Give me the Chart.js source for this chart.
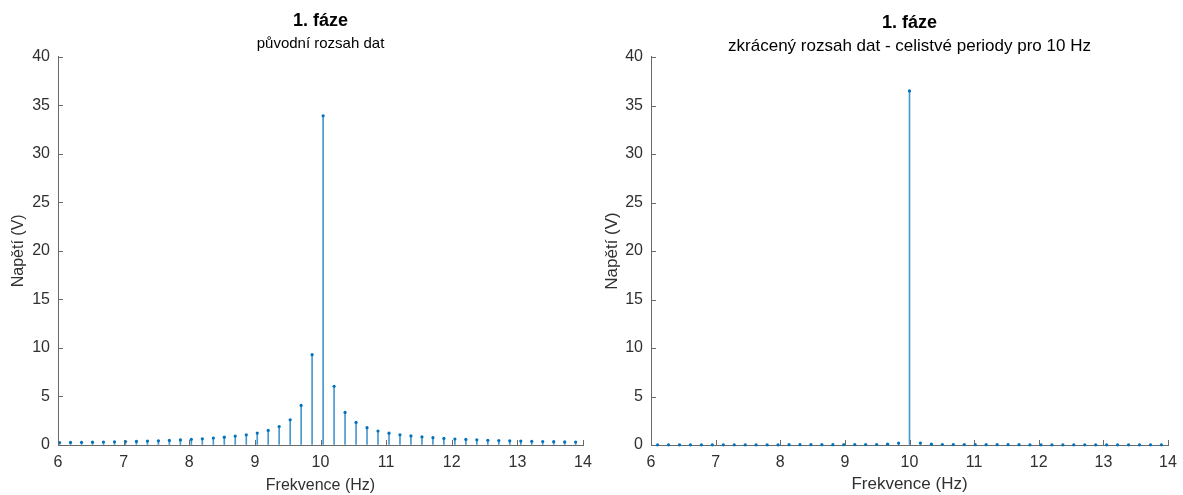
<!DOCTYPE html>
<html>
<head>
<meta charset="utf-8">
<script src="https://cdn.jsdelivr.net/npm/chart.js@4.4.1/dist/chart.umd.min.js"></script>
<style>
  html, body { margin: 0; padding: 0; background: #ffffff; }
  #wrap { position: relative; width: 1183px; height: 495px; overflow: hidden; }
  canvas { position: absolute; top: 0; }
  #c1 { left: 0px; }
  #c2 { left: 590px; }
</style>
</head>
<body>
<div id="wrap">
  <canvas id="c1" width="641" height="495"></canvas>
  <canvas id="c2" width="639" height="495"></canvas>
</div>
<script>
// ---- data ----
const titleText = '1. fáze';
const subtitleLeft = 'původní rozsah dat';
const subtitleRight = 'zkrácený rozsah dat - celistvé periody pro 10 Hz';
const xAxisTitle = 'Frekvence (Hz)';
const yAxisTitle = 'Napětí (V)';

const xTickValues = [6, 7, 8, 9, 10, 11, 12, 13, 14];
const yTickValues = [0, 5, 10, 15, 20, 25, 30, 35, 40];

// left panel: original data range
const freqLeft = [6.024, 6.191, 6.359, 6.526, 6.693, 6.861, 7.028, 7.195, 7.363, 7.530,
                  7.697, 7.865, 8.032, 8.199, 8.367, 8.534, 8.701, 8.869, 9.036, 9.203,
                  9.370, 9.538, 9.705, 9.872, 10.040, 10.207, 10.374, 10.542, 10.709, 10.876,
                  11.044, 11.211, 11.378, 11.546, 11.713, 11.880, 12.048, 12.215, 12.382, 12.550,
                  12.717, 12.884, 13.052, 13.219, 13.386, 13.554, 13.721, 13.888];
const voltLeft = [0.26, 0.27, 0.28, 0.29, 0.31, 0.33, 0.35, 0.37, 0.40, 0.43,
                  0.47, 0.52, 0.58, 0.64, 0.72, 0.81, 0.92, 1.05, 1.23, 1.50,
                  1.90, 2.60, 4.08, 9.30, 33.9, 6.05, 3.35, 2.32, 1.78, 1.44,
                  1.22, 1.05, 0.93, 0.83, 0.75, 0.68, 0.62, 0.57, 0.53, 0.49,
                  0.46, 0.43, 0.40, 0.38, 0.36, 0.34, 0.32, 0.31];

// right panel: shortened range, whole periods of 10 Hz
const freqRight = [6.102, 6.271, 6.441, 6.610, 6.780, 6.949, 7.119, 7.288, 7.458, 7.627,
                   7.797, 7.966, 8.136, 8.305, 8.475, 8.644, 8.814, 8.983, 9.153, 9.322,
                   9.492, 9.661, 9.831, 10.000, 10.169, 10.339, 10.508, 10.678, 10.847, 11.017,
                   11.186, 11.356, 11.525, 11.695, 11.864, 12.034, 12.203, 12.373, 12.542, 12.712,
                   12.881, 13.051, 13.220, 13.390, 13.559, 13.729, 13.898];
const voltRight = [0.02, 0.02, 0.02, 0.02, 0.02, 0.02, 0.02, 0.02, 0.02, 0.02,
                   0.02, 0.02, 0.03, 0.03, 0.03, 0.03, 0.03, 0.03, 0.04, 0.04,
                   0.05, 0.08, 0.20, 36.5, 0.20, 0.08, 0.05, 0.04, 0.04, 0.03,
                   0.03, 0.03, 0.03, 0.03, 0.02, 0.02, 0.02, 0.02, 0.02, 0.02,
                   0.02, 0.02, 0.02, 0.02, 0.02, 0.02, 0.02];

// ---- styling ----
const FONT = "'Liberation Sans', Arial, Helvetica, sans-serif";
const TEXT = '#303030';
const AXIS = '#6a6a6a';
const STEM = '#0072BD';
const STEM_LINE = 'rgba(0,114,189,0.72)';

const inwardTicks = {
  id: 'inwardTicks',
  afterDatasetsDraw(chart) {
    const {ctx, chartArea, scales} = chart;
    ctx.save();
    ctx.strokeStyle = AXIS;
    ctx.lineWidth = 1;
    ctx.beginPath();
    scales.x.ticks.forEach(t => {
      const px = Math.round(scales.x.getPixelForValue(t.value)) + 0.5;
      ctx.moveTo(px, chartArea.bottom);
      ctx.lineTo(px, chartArea.bottom - 5);
    });
    scales.y.ticks.forEach(t => {
      const py = Math.round(scales.y.getPixelForValue(t.value)) + 0.5;
      ctx.moveTo(chartArea.left, py);
      ctx.lineTo(chartArea.left + 5, py);
    });
    ctx.stroke();
    ctx.restore();
  }
};

function makeChart(canvasId, freqs, volts, subtitle, cfg) {
  const stems = freqs.map((f, i) => ({x: f, y: volts[i]}));
  return new Chart(document.getElementById(canvasId), {
    type: 'bar',
    data: {
      datasets: [
        {
          type: 'scatter',
          data: stems,
          order: 0,
          pointRadius: 1.6,
          pointBackgroundColor: STEM,
          pointBorderWidth: 0,
          clip: false
        },
        {
          type: 'bar',
          data: stems,
          order: 1,
          backgroundColor: STEM_LINE,
          barThickness: 1,
          grouped: false
        }
      ]
    },
    options: {
      responsive: false,
      animation: false,
      devicePixelRatio: 1,
      layout: { padding: 0 },
      plugins: {
        legend: { display: false },
        tooltip: { enabled: false },
        title: {
          display: true, text: titleText, color: '#000000',
          font: { family: FONT, size: 18, weight: 'bold' },
          padding: { top: cfg.titleTop, bottom: cfg.titleBottom }
        },
        subtitle: {
          display: true, text: subtitle, color: '#000000',
          font: { family: FONT, size: cfg.subSize, weight: 'normal' },
          padding: { top: 0, bottom: cfg.subBottom }
        }
      },
      scales: {
        x: {
          type: 'linear', min: 6, max: 14, offset: false,
          afterBuildTicks: s => { s.ticks = xTickValues.map(v => ({value: v})); },
          afterFit: s => { s.height = 50; },
          grid: { display: true, drawOnChartArea: false, drawTicks: false },
          border: { display: true, color: AXIS, width: 1 },
          ticks: { color: TEXT, font: { family: FONT, size: 16 }, padding: 8, maxRotation: 0, autoSkip: false },
          title: { display: true, text: xAxisTitle, color: TEXT,
                   font: { family: FONT, size: cfg.axTitleSize }, padding: { top: 0, bottom: 0 } }
        },
        y: {
          type: 'linear', min: 0, max: 40,
          afterBuildTicks: s => { s.ticks = yTickValues.map(v => ({value: v})); },
          afterFit: s => { s.width = cfg.yWidth; },
          grid: { display: true, drawOnChartArea: false, drawTicks: false },
          border: { display: true, color: AXIS, width: 1 },
          ticks: { color: TEXT, font: { family: FONT, size: 16 }, padding: 8 },
          title: { display: true, text: yAxisTitle, color: TEXT,
                   font: { family: FONT, size: cfg.axTitleSize }, padding: { top: cfg.yTitlePad, bottom: 0 } }
        },
        // empty spacer on the right so the titles centre over the plot area
        spacer: {
          type: 'linear', position: 'right', display: true,
          afterFit: s => { s.width = cfg.yWidth; },
          grid: { display: false },
          border: { display: false },
          ticks: { display: false },
          title: { display: false }
        }
      }
    },
    plugins: [inwardTicks]
  });
}

makeChart('c1', freqLeft, voltLeft, subtitleLeft,
  { titleTop: 10, titleBottom: 3, subSize: 15, subBottom: 4, axTitleSize: 16, yWidth: 58, yTitlePad: 9 });
makeChart('c2', freqRight, voltRight, subtitleRight,
  { titleTop: 12, titleBottom: 3, subSize: 17, subBottom: 0, axTitleSize: 17, yWidth: 61, yTitlePad: 12 });
</script>
</body>
</html>
